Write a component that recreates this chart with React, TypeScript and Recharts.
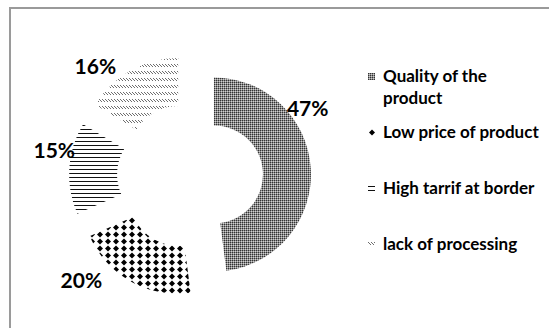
import { PieChart, Pie, Cell, Sector, Legend } from 'recharts'

const categories = ['Quality of the product', 'Low price of product', 'High tarrif at border', 'lack of processing']
const shares = [47, 20, 15, 16]

const patternIds = ['pQuality', 'pPrice', 'pTariff', 'pProcessing']
const font = 'Lato, "Open Sans", sans-serif'
const RADIAN = Math.PI / 180
const EXPLODE = 24
const LABEL_R = 140
// hand-tuned label shifts, Excel doesn't put them on the mid angle
const labelNudge = [[-22, -60], [-40, -18], [4, -18], [-26, 11]]
const legendGap = [0, 12, 34, 34]

const data = categories.map((name, i) => ({ name, value: shares[i] }))

function Patterns() {
  return (
    <svg width={0} height={0} style={{ position: 'absolute' }}>
      <defs>
        <pattern id="pQuality" width={2} height={2} patternUnits="userSpaceOnUse">
          <rect width={2} height={2} fill="#8a8a8a" />
          <rect x={0} y={0} width={1} height={1} fill="#333" />
          <rect x={1} y={1} width={1} height={1} fill="#d0d0d0" />
        </pattern>
        <pattern id="pPrice" width={8} height={7} patternUnits="userSpaceOnUse">
          <rect width={8} height={7} fill="#fff" />
          <polygon points="4,0.5 7,3.5 4,6.5 1,3.5" fill="#000" />
        </pattern>
        <pattern id="pTariff" width={4} height={4} patternUnits="userSpaceOnUse">
          <rect width={4} height={4} fill="#fff" />
          <rect x={0} y={1} width={4} height={1} fill="#111" />
        </pattern>
        <pattern id="pProcessing" width={3} height={7} patternUnits="userSpaceOnUse">
          <rect width={3} height={7} fill="#fff" />
          <line x1={0} y1={1} x2={3} y2={4} stroke="#6e6e6e" strokeWidth={1} />
        </pattern>
      </defs>
    </svg>
  )
}

// draws the exploded ring piece plus its percent label, from the angles recharts hands us
function SliceWithLabel(props: any) {
  const { cx, cy, innerRadius, outerRadius, startAngle, endAngle, midAngle, index, value } = props
  const cos = Math.cos(-midAngle * RADIAN)
  const sin = Math.sin(-midAngle * RADIAN)
  const [nx, ny] = labelNudge[index]
  return (
    <g>
      <Sector
        cx={cx + EXPLODE * cos} cy={cy + EXPLODE * sin}
        innerRadius={innerRadius} outerRadius={outerRadius}
        startAngle={startAngle} endAngle={endAngle}
        fill={`url(#${patternIds[index]})`} stroke="none"
      />
      <text
        x={cx + LABEL_R * cos + nx} y={cy + LABEL_R * sin + ny}
        textAnchor="middle" dominantBaseline="central"
        fontFamily={font} fontWeight={700} fontSize={21} fill="#000"
      >
        {value}%
      </text>
    </g>
  )
}

function LegendList() {
  return (
    <div style={{ fontFamily: font, fontWeight: 700, fontSize: 17, color: '#000' }}>
      {categories.map((name, i) => (
        <div key={name} style={{ position: 'relative', marginTop: legendGap[i], paddingLeft: 19, width: 160, lineHeight: '22px' }}>
          <svg width={7} height={7} style={{ position: 'absolute', left: 4, top: 8 }}>
            <rect width={7} height={7} fill={`url(#${patternIds[i]})`} />
          </svg>
          {name}
        </div>
      ))}
    </div>
  )
}

export default function App() {
  return (
    <div style={{ position: 'fixed', left: 0, top: 0, width: 549, height: 328, overflow: 'hidden', background: '#fff' }}>
      <Patterns />
      <div style={{ position: 'absolute', left: 9, top: 7, width: 600, height: 400, border: '2px solid #9a9a9a' }} />
      <PieChart width={549} height={328} style={{ position: 'absolute', left: 0, top: 0 }}>
        <Pie
          data={data} dataKey="value" nameKey="name"
          cx={185} cy={171} innerRadius={49} outerRadius={97}
          startAngle={90} endAngle={-270}
          stroke="none" label={SliceWithLabel} labelLine={false}
          isAnimationActive={false}
        >
          {data.map((d) => <Cell key={d.name} fill="none" />)}
        </Pie>
        <Legend
          layout="vertical" align="right" verticalAlign="top"
          content={<LegendList />}
          wrapperStyle={{ left: 364, top: 65, width: 185 }}
        />
      </PieChart>
    </div>
  )
}
